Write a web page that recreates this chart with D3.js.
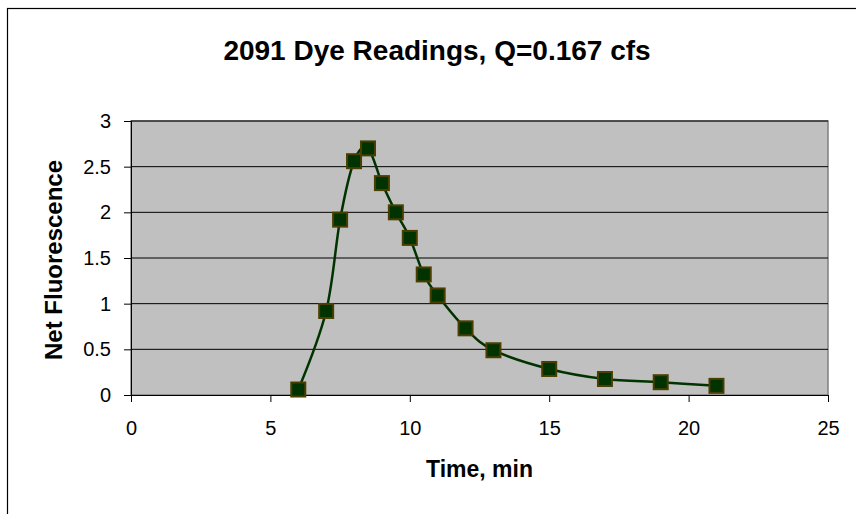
<!DOCTYPE html>
<html><head><meta charset="utf-8">
<script src="https://cdn.jsdelivr.net/npm/d3@7"></script>
<style>body{margin:0;background:#fff}svg{display:block}text{font-family:Arial,"Liberation Sans",sans-serif}</style>
</head><body>
<script>
const title = "2091 Dye Readings, Q=0.167 cfs";
const xTitle = "Time, min";
const yTitle = "Net Fluorescence";
const times = [6, 7, 7.5, 8, 8.5, 9, 9.5, 10, 10.5, 11, 12, 13, 15, 17, 19, 21];
const fluorescence = [0.06, 0.92, 1.92, 2.56, 2.70, 2.32, 2.00, 1.72, 1.32, 1.09, 0.73, 0.49, 0.285, 0.175, 0.14, 0.10];
const xTicks = [0, 5, 10, 15, 20, 25];
const yTicks = [0, 0.5, 1, 1.5, 2, 2.5, 3];

const W = 856, H = 514;
const svg = d3.select("body").append("svg").attr("width", W).attr("height", H);
svg.append("rect").attr("x", 7.5).attr("y", 8.5).attr("width", 900).attr("height", 600)
  .attr("fill", "#fff").attr("stroke", "#000").attr("stroke-width", 1.2);

const L = 131, R = 828, T = 121, B = 395;
const x = d3.scaleLinear().domain([0, 25]).range([L, R]);
const y = d3.scaleLinear().domain([0, 3]).range([B, T]);

svg.append("rect").attr("x", L).attr("y", T).attr("width", R - L).attr("height", B - T)
  .attr("fill", "#c0c0c0").attr("stroke", "#808080").attr("stroke-width", 1.5);

svg.append("g").selectAll("line").data(yTicks.filter(d => d > 0)).join("line")
  .attr("x1", L).attr("x2", R).attr("y1", d => y(d)).attr("y2", d => y(d))
  .attr("stroke", "#000").attr("stroke-width", 1);

const xAxis = svg.append("g").attr("transform", `translate(0,${B})`)
  .call(d3.axisBottom(x).tickValues(xTicks).tickSize(7).tickPadding(19).tickFormat(d3.format("d")));
xAxis.select(".domain").attr("stroke", "#000");
xAxis.selectAll("line").attr("stroke", "#000");
xAxis.selectAll("text").attr("font-size", 20).attr("fill", "#000");

const yAxis = svg.append("g").attr("transform", `translate(${L},0)`)
  .call(d3.axisLeft(y).tickValues(yTicks).tickSize(7).tickPadding(13).tickFormat(d => String(d)));
yAxis.select(".domain").attr("stroke", "#000");
yAxis.selectAll("line").attr("stroke", "#000");
yAxis.selectAll("text").attr("font-size", 20).attr("fill", "#000");

const pts = times.map((t, i) => [t, fluorescence[i]]);
svg.append("path").datum(pts)
  .attr("d", d3.line().x(d => x(d[0])).y(d => y(d[1])).curve(d3.curveCatmullRom.alpha(0)))
  .attr("fill", "none").attr("stroke", "#003300").attr("stroke-width", 2.5);

const s = 14;
svg.append("g").selectAll("rect").data(pts).join("rect")
  .attr("x", d => x(d[0]) - s / 2).attr("y", d => y(d[1]) - s / 2)
  .attr("width", s).attr("height", s)
  .attr("fill", "#003300").attr("stroke", "#4a3f00").attr("stroke-width", 2);

svg.append("text").attr("x", 437).attr("y", 60).attr("text-anchor", "middle")
  .attr("font-size", 28).attr("font-weight", "bold").text(title);
svg.append("text").attr("x", (L + R) / 2).attr("y", 477).attr("text-anchor", "middle")
  .attr("font-size", 23).attr("font-weight", "bold").text(xTitle);
svg.append("text").attr("transform", `translate(62,${(T + B) / 2 + 2}) rotate(-90)`).attr("text-anchor", "middle")
  .attr("font-size", 24).attr("font-weight", "bold").text(yTitle);
</script>
</body></html>
